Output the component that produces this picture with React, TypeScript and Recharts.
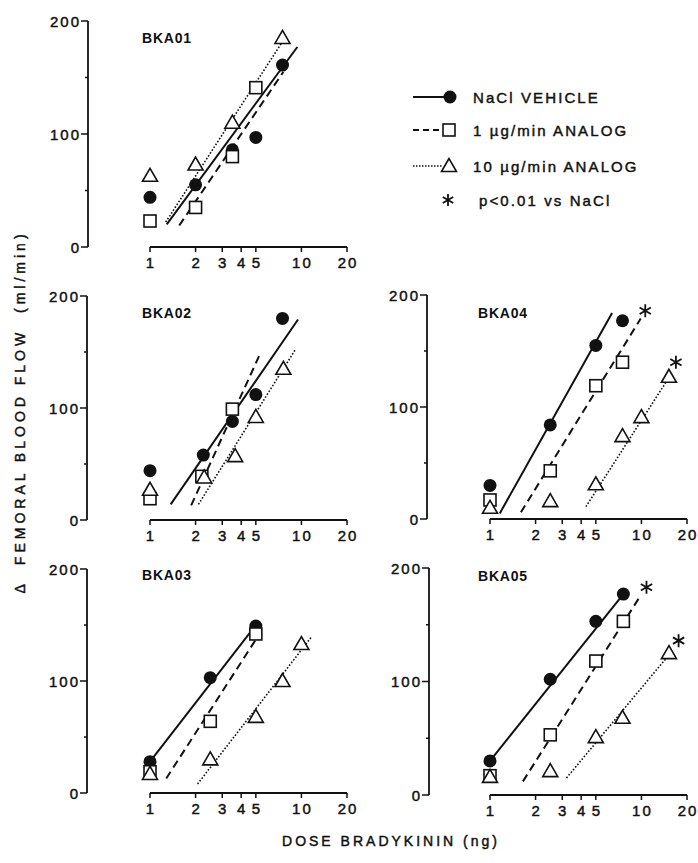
import React from 'react';
import { ScatterChart, Scatter, XAxis, YAxis, ReferenceLine } from 'recharts';

type P = { x: number; y: number };

// ---------- tick labels ----------
const xTickValues = [1, 2, 3, 4, 5, 10, 20];
const yTickValues = [0, 50, 100, 150, 200];
const yLabelValues = [0, 100, 200];
const xAxisSpan: P[] = [{ x: 1, y: 0 }, { x: 20, y: 0 }];

// ---------- BKA01 ----------
const bka01Circle: P[] = [{ x: 1, y: 44 }, { x: 2, y: 55 }, { x: 3.5, y: 86 }, { x: 5, y: 97 }, { x: 7.5, y: 161 }];
const bka01Square: P[] = [{ x: 1, y: 23 }, { x: 2, y: 35 }, { x: 3.5, y: 80 }, { x: 5, y: 141 }];
const bka01Triangle: P[] = [{ x: 1, y: 63 }, { x: 2, y: 73 }, { x: 3.5, y: 110 }, { x: 7.5, y: 185 }];
const bka01Solid: P[] = [{ x: 1.29, y: 20 }, { x: 9.4, y: 177 }];
const bka01Dashed: P[] = [{ x: 1.56, y: 19 }, { x: 7.6, y: 155 }];
const bka01Dotted: P[] = [{ x: 1.27, y: 22 }, { x: 7.6, y: 183 }];
const bka01Stars: P[] = [];

// ---------- BKA02 ----------
const bka02Circle: P[] = [{ x: 1, y: 44 }, { x: 2.25, y: 58 }, { x: 3.5, y: 88 }, { x: 5, y: 112 }, { x: 7.5, y: 180 }];
const bka02Square: P[] = [{ x: 1, y: 19 }, { x: 2.2, y: 39 }, { x: 3.5, y: 99 }];
const bka02Triangle: P[] = [{ x: 1, y: 27 }, { x: 2.28, y: 38 }, { x: 3.65, y: 57 }, { x: 5, y: 92 }, { x: 7.6, y: 135 }];
const bka02Solid: P[] = [{ x: 1.37, y: 14 }, { x: 9.5, y: 179 }];
const bka02Dashed: P[] = [{ x: 1.87, y: 13 }, { x: 5.4, y: 150 }];
const bka02Dotted: P[] = [{ x: 2.09, y: 14 }, { x: 9.1, y: 152 }];
const bka02Stars: P[] = [];

// ---------- BKA03 ----------
const bka03Circle: P[] = [{ x: 1, y: 28 }, { x: 2.5, y: 103 }, { x: 5, y: 149 }];
const bka03Square: P[] = [{ x: 1, y: 19 }, { x: 2.5, y: 64 }, { x: 5, y: 142 }];
const bka03Triangle: P[] = [{ x: 1, y: 17 }, { x: 2.5, y: 30 }, { x: 5, y: 68 }, { x: 7.5, y: 100 }, { x: 10, y: 133 }];
const bka03Solid: P[] = [{ x: 1, y: 28 }, { x: 5, y: 150 }];
const bka03Dashed: P[] = [{ x: 1.28, y: 13 }, { x: 5, y: 137 }];
const bka03Dotted: P[] = [{ x: 2.06, y: 8 }, { x: 11.6, y: 139 }];
const bka03Stars: P[] = [];

// ---------- BKA04 ----------
const bka04Circle: P[] = [{ x: 1, y: 30 }, { x: 2.5, y: 84 }, { x: 5, y: 155 }, { x: 7.5, y: 177 }];
const bka04Square: P[] = [{ x: 1, y: 17 }, { x: 2.5, y: 43 }, { x: 5, y: 119 }, { x: 7.5, y: 140 }];
const bka04Triangle: P[] = [{ x: 1, y: 10 }, { x: 2.5, y: 16 }, { x: 5, y: 31 }, { x: 7.5, y: 74 }, { x: 10, y: 91 }, { x: 15.2, y: 127 }];
const bka04Solid: P[] = [{ x: 1.16, y: 5 }, { x: 6.4, y: 184 }];
const bka04Dashed: P[] = [{ x: 1.6, y: 6 }, { x: 9.9, y: 179 }];
const bka04Dotted: P[] = [{ x: 4.3, y: 11 }, { x: 16, y: 131 }];
const bka04Stars: P[] = [{ x: 10.6, y: 186 }, { x: 16.9, y: 140 }];

// ---------- BKA05 ----------
const bka05Circle: P[] = [{ x: 1, y: 30 }, { x: 2.5, y: 102 }, { x: 5, y: 153 }, { x: 7.6, y: 177 }];
const bka05Square: P[] = [{ x: 1, y: 17 }, { x: 2.5, y: 53 }, { x: 5, y: 118 }, { x: 7.6, y: 153 }];
const bka05Triangle: P[] = [{ x: 1, y: 16 }, { x: 2.5, y: 21 }, { x: 5, y: 51 }, { x: 7.5, y: 68 }, { x: 15.2, y: 125 }];
const bka05Solid: P[] = [{ x: 1, y: 30 }, { x: 7.6, y: 177 }];
const bka05Dashed: P[] = [{ x: 1.65, y: 12 }, { x: 9.9, y: 176 }];
const bka05Dotted: P[] = [{ x: 3.2, y: 15 }, { x: 16, y: 127 }];
const bka05Stars: P[] = [{ x: 10.8, y: 183 }, { x: 17.6, y: 136 }];

// ---------- legend / titles ----------
const legendLabels = ['NaCl VEHICLE', '1 \u00b5g/min ANALOG', '10 \u00b5g/min ANALOG', 'p<0.01 vs NaCl'];
const panelTitles = ['BKA01', 'BKA02', 'BKA03', 'BKA04', 'BKA05'];
const yAxisTitle = '\u0394  FEMORAL BLOOD FLOW  (ml/min)';
const xAxisTitle = 'DOSE BRADYKININ (ng)';

const FONT = '"Liberation Sans", Arial, Helvetica, sans-serif';
const INK = '#111';
const TEXT_STROKE = 0.45;

const YW = 50;
const MT = 15;
const XH = 32;
const MR = 22;

type Panel = {
  title: string;
  plotLeft: number;
  plotTop: number;
  plotW: number;
  plotH: number;
  pad: number;
  circle: P[];
  square: P[];
  triangle: P[];
  solid: P[];
  dashed: P[];
  dotted: P[];
  stars: P[];
};

const panels: Panel[] = [
  { title: panelTitles[0], plotLeft: 88, plotTop: 21, plotW: 259, plotH: 226, pad: 62, circle: bka01Circle, square: bka01Square, triangle: bka01Triangle, solid: bka01Solid, dashed: bka01Dashed, dotted: bka01Dotted, stars: bka01Stars },
  { title: panelTitles[1], plotLeft: 87, plotTop: 296, plotW: 260, plotH: 224, pad: 63, circle: bka02Circle, square: bka02Square, triangle: bka02Triangle, solid: bka02Solid, dashed: bka02Dashed, dotted: bka02Dotted, stars: bka02Stars },
  { title: panelTitles[2], plotLeft: 87, plotTop: 569, plotW: 260, plotH: 224, pad: 63, circle: bka03Circle, square: bka03Square, triangle: bka03Triangle, solid: bka03Solid, dashed: bka03Dashed, dotted: bka03Dotted, stars: bka03Stars },
  { title: panelTitles[3], plotLeft: 427, plotTop: 295, plotW: 260, plotH: 224, pad: 63, circle: bka04Circle, square: bka04Square, triangle: bka04Triangle, solid: bka04Solid, dashed: bka04Dashed, dotted: bka04Dotted, stars: bka04Stars },
  { title: panelTitles[4], plotLeft: 429, plotTop: 568, plotW: 258, plotH: 227, pad: 61, circle: bka05Circle, square: bka05Square, triangle: bka05Triangle, solid: bka05Solid, dashed: bka05Dashed, dotted: bka05Dotted, stars: bka05Stars },
];

const CircleShape = (p: any) => <circle cx={p.cx} cy={p.cy} r={6.5} fill={INK} />;
const SquareShape = (p: any) => (
  <rect x={p.cx - 6} y={p.cy - 6} width={12} height={12} fill="#fff" stroke={INK} strokeWidth={1.6} />
);
const TriangleShape = (p: any) => (
  <polygon
    points={`${p.cx},${p.cy - 7.5} ${p.cx - 7.5},${p.cy + 5.5} ${p.cx + 7.5},${p.cy + 5.5}`}
    fill="#fff"
    stroke={INK}
    strokeWidth={1.6}
  />
);
const starPath = (cx: number, cy: number, r: number) => {
  const a = r * Math.cos(Math.PI / 6);
  const b = r * Math.sin(Math.PI / 6);
  return `M${cx},${cy - r}L${cx},${cy + r}M${cx - a},${cy - b}L${cx + a},${cy + b}M${cx - a},${cy + b}L${cx + a},${cy - b}`;
};
const StarShape = (p: any) => <path d={starPath(p.cx, p.cy, 6.5)} stroke={INK} strokeWidth={1.8} fill="none" />;
const NoShape = () => <g />;

const XTick = (props: any) => {
  const { x, y, payload } = props;
  return (
    <g>
      <line x1={x} y1={y} x2={x} y2={y + 5} stroke={INK} strokeWidth={1.5} />
      <text
        x={x + 1}
        y={y + 21}
        textAnchor="middle"
        fontFamily={FONT}
        fontSize={15}
        letterSpacing={2}
        fill={INK}
        stroke={INK}
        strokeWidth={TEXT_STROKE}
      >
        {payload.value}
      </text>
    </g>
  );
};

const YTick = (props: any) => {
  const { x, y, payload } = props;
  const major = yLabelValues.includes(payload.value);
  return (
    <g>
      <line x1={x - (major ? 7 : 3)} y1={y} x2={x} y2={y} stroke={INK} strokeWidth={1.5} />
      {major && (
        <text
          x={x - 7}
          y={y + 5.5}
          textAnchor="end"
          fontFamily={FONT}
          fontSize={15}
          letterSpacing={2}
          fill={INK}
          stroke={INK}
          strokeWidth={TEXT_STROKE}
        >
          {payload.value}
        </text>
      )}
    </g>
  );
};

const PanelChart = ({ cfg }: { cfg: Panel }) => {
  const width = YW + cfg.plotW + MR;
  const height = MT + cfg.plotH + XH;
  return (
    <div style={{ position: 'absolute', left: cfg.plotLeft - YW, top: cfg.plotTop - MT, width, height }}>
      <ScatterChart width={width} height={height} margin={{ top: MT, right: MR, bottom: 0, left: 0 }}>
        <XAxis
          type="number"
          dataKey="x"
          scale="log"
          domain={[1, 20]}
          ticks={xTickValues}
          interval={0}
          padding={{ left: cfg.pad, right: 0 }}
          axisLine={false}
          tickLine={false}
          tickSize={0}
          tickMargin={0}
          tick={<XTick />}
          height={XH}
        />
        <YAxis
          type="number"
          dataKey="y"
          domain={[0, 200]}
          ticks={yTickValues}
          interval={0}
          width={YW}
          axisLine={{ stroke: INK, strokeWidth: 1.8 }}
          tickLine={false}
          tickSize={0}
          tickMargin={0}
          tick={<YTick />}
        />
        <ReferenceLine segment={xAxisSpan} stroke={INK} strokeWidth={1.8} />
        <Scatter data={cfg.solid} shape={NoShape} line={{ stroke: INK, strokeWidth: 2 }} isAnimationActive={false} />
        <Scatter data={cfg.dashed} shape={NoShape} line={{ stroke: INK, strokeWidth: 2, strokeDasharray: '8 5' }} isAnimationActive={false} />
        <Scatter data={cfg.dotted} shape={NoShape} line={{ stroke: INK, strokeWidth: 1.6, strokeDasharray: '1.6 1.8' }} isAnimationActive={false} />
        <Scatter data={cfg.circle} shape={CircleShape} isAnimationActive={false} />
        <Scatter data={cfg.square} shape={SquareShape} isAnimationActive={false} />
        <Scatter data={cfg.triangle} shape={TriangleShape} isAnimationActive={false} />
        <Scatter data={cfg.stars} shape={StarShape} isAnimationActive={false} />
      </ScatterChart>
    </div>
  );
};

const titlePos = [
  { x: 142, y: 43 },
  { x: 142, y: 318 },
  { x: 142, y: 580 },
  { x: 478, y: 318 },
  { x: 478, y: 581 },
];

const legendRows = [97, 130, 166, 200];

const Overlay = () => (
  <svg width={698} height={863} style={{ position: 'absolute', left: 0, top: 0, pointerEvents: 'none' }}>
    {panels.map((p, i) => (
      <text key={p.title} x={titlePos[i].x} y={titlePos[i].y} fontFamily={FONT} fontWeight="bold" fontSize={14} letterSpacing={0.8} fill={INK}>
        {p.title}
      </text>
    ))}
    <text
      x={25}
      y={412}
      transform="rotate(-90, 25, 412)"
      textAnchor="middle"
      fontFamily={FONT}
      fontSize={14}
      letterSpacing={4}
      fill={INK}
      stroke={INK}
      strokeWidth={TEXT_STROKE}
      style={{ whiteSpace: 'pre' }}
    >
      {yAxisTitle}
    </text>
    <text x={391} y={846} textAnchor="middle" fontFamily={FONT} fontSize={14} letterSpacing={3} fill={INK} stroke={INK} strokeWidth={TEXT_STROKE}>
      {xAxisTitle}
    </text>
    {/* legend */}
    <line x1={413} y1={legendRows[0]} x2={446} y2={legendRows[0]} stroke={INK} strokeWidth={2} />
    <circle cx={450} cy={legendRows[0]} r={6.5} fill={INK} />
    <line x1={413} y1={legendRows[1]} x2={443} y2={legendRows[1]} stroke={INK} strokeWidth={2} strokeDasharray="6 4" />
    <rect x={443} y={legendRows[1] - 6} width={12} height={12} fill="#fff" stroke={INK} strokeWidth={1.6} />
    <line x1={413} y1={legendRows[2]} x2={443} y2={legendRows[2]} stroke={INK} strokeWidth={1.5} strokeDasharray="1.5 1.5" />
    <polygon
      points={`${449},${legendRows[2] - 7.5} ${441.5},${legendRows[2] + 5.5} ${456.5},${legendRows[2] + 5.5}`}
      fill="#fff"
      stroke={INK}
      strokeWidth={1.6}
    />
    <path d={starPath(448, legendRows[3], 6)} stroke={INK} strokeWidth={1.8} fill="none" />
    {legendLabels.map((t, i) => (
      <text
        key={t}
        x={i === 3 ? 479 : 473}
        y={legendRows[i] + 5.5}
        fontFamily={FONT}
        fontSize={15}
        letterSpacing={2.1}
        fill={INK}
        stroke={INK}
        strokeWidth={TEXT_STROKE}
      >
        {t}
      </text>
    ))}
  </svg>
);

export default function App() {
  return (
    <div style={{ position: 'absolute', left: 0, top: 0, width: 698, height: 863, background: '#fff', overflow: 'hidden' }}>
      {panels.map((p) => (
        <PanelChart key={p.title} cfg={p} />
      ))}
      <Overlay />
    </div>
  );
}
